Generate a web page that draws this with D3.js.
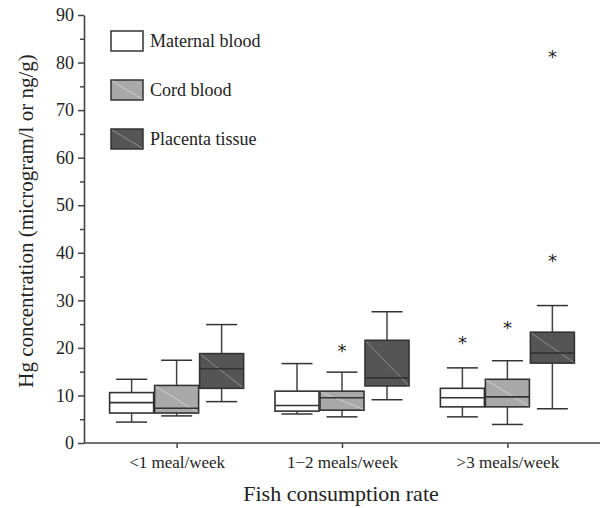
<!DOCTYPE html>
<html>
<head>
<meta charset="utf-8">
<script src="https://cdn.jsdelivr.net/npm/d3@7"></script>
<style>
  body { margin: 0; background: #fff; }
  text { font-family: "Liberation Serif", "DejaVu Serif", serif; fill: #222; }
</style>
</head>
<body>
<script>
// categories and series
const groups = ["<1 meal/week", "1\u22122 meals/week", ">3 meals/week"];
const series = ["Maternal blood", "Cord blood", "Placenta tissue"];

// box stats per group: [whisker low, q1, median, q3, whisker high]
const maternal = [[4.4, 6.3, 8.5, 10.6, 13.4], [6.1, 6.7, 7.9, 10.9, 16.7], [5.5, 7.6, 9.5, 11.5, 15.8]];
const cord = [[5.7, 6.3, 7.3, 12.1, 17.4], [5.5, 6.9, 9.5, 10.9, 14.9], [3.9, 7.6, 9.7, 13.4, 17.3]];
const placenta = [[8.7, 11.5, 15.6, 18.8, 24.9], [9.1, 12.0, 13.7, 21.6, 27.6], [7.2, 16.8, 18.9, 23.3, 28.9]];

// outliers: [group index, series index, value]
const outliers = [[1, 1, 20.0], [2, 0, 21.7], [2, 1, 24.8], [2, 2, 38.8], [2, 2, 81.9]];

const yTicks = [0, 10, 20, 30, 40, 50, 60, 70, 80, 90];
const fills = ["#ffffff", "#a9a9a9", "#555555"];
const diag = [null, "#d8d8d8", "#9a9a9a"];

const width = 602, height = 508;
const stats = [maternal, cord, placenta];

const svg = d3.select("body").append("svg")
  .attr("width", width)
  .attr("height", height);

const y = d3.scaleLinear().domain([0, 90]).range([443, 15]);
const x = d3.scalePoint().domain(groups).range([84, 600]).padding(0.56);
const off = d3.scalePoint().domain(series).range([-45, 45]);
const boxW = 44, capW = 31;

// y axis: minor ticks then labelled ticks
svg.append("g")
  .attr("transform", "translate(84,0)")
  .call(d3.axisLeft(y).tickValues(d3.range(5, 90, 10)).tickSize(4).tickFormat(""))
  .call(g => g.select(".domain").remove())
  .call(g => g.selectAll("line").attr("stroke", "#444").attr("stroke-width", 1.5));

const yAxis = svg.append("g")
  .attr("transform", "translate(84,0)")
  .call(d3.axisLeft(y).tickValues(yTicks).tickSize(6).tickSizeOuter(0).tickPadding(4));
yAxis.select(".domain").attr("stroke", "#444").attr("stroke-width", 1.6);
yAxis.selectAll("line").attr("stroke", "#444").attr("stroke-width", 1.5);
yAxis.selectAll("text").style("font-size", "18px").style("font-family", "Liberation Serif").attr("fill", "#222");

// x axis
svg.append("line")
  .attr("x1", 84).attr("x2", 600)
  .attr("y1", y(0)).attr("y2", y(0))
  .attr("stroke", "#444").attr("stroke-width", 1.6);

const xAxis = svg.append("g")
  .attr("transform", "translate(0," + y(0) + ")")
  .call(d3.axisBottom(x).tickSize(5).tickSizeOuter(0).tickPadding(8));
xAxis.select(".domain").remove();
xAxis.selectAll("line").attr("stroke", "#444").attr("stroke-width", 1.5);
xAxis.selectAll("text").style("font-size", "17px").style("font-family", "Liberation Serif").attr("fill", "#222");

// axis titles
svg.append("text")
  .attr("x", 341).attr("y", 501)
  .attr("text-anchor", "middle")
  .style("font-size", "22px")
  .text("Fish consumption rate");

svg.append("text")
  .attr("transform", "translate(33,221) rotate(-90)")
  .attr("text-anchor", "middle")
  .style("font-size", "21px")
  .text("Hg concentration (microgram/l or ng/g)");

// boxes
series.forEach((s, si) => {
  groups.forEach((gname, gi) => {
    const [lo, q1, med, q3, hi] = stats[si][gi];
    const cx = x(gname) + off(s);
    const g = svg.append("g");

    // whiskers
    g.append("line").attr("x1", cx).attr("x2", cx).attr("y1", y(hi)).attr("y2", y(q3))
      .attr("stroke", "#444").attr("stroke-width", 1.5);
    g.append("line").attr("x1", cx).attr("x2", cx).attr("y1", y(q1)).attr("y2", y(lo))
      .attr("stroke", "#444").attr("stroke-width", 1.5);
    [lo, hi].forEach(v => {
      g.append("line").attr("x1", cx - capW / 2).attr("x2", cx + capW / 2)
        .attr("y1", y(v)).attr("y2", y(v))
        .attr("stroke", "#333").attr("stroke-width", 1.5);
    });

    g.append("rect")
      .attr("x", cx - boxW / 2).attr("y", y(q3))
      .attr("width", boxW).attr("height", y(q1) - y(q3))
      .attr("fill", fills[si])
      .attr("stroke", "#333").attr("stroke-width", 1.6);

    if (diag[si]) {
      g.append("line")
        .attr("x1", cx - boxW / 2 + 1).attr("y1", y(q3) + 1)
        .attr("x2", cx + boxW / 2 - 1).attr("y2", y(q1) - 1)
        .attr("stroke", diag[si]).attr("stroke-width", 0.8);
    }

    g.append("line")
      .attr("x1", cx - boxW / 2).attr("x2", cx + boxW / 2)
      .attr("y1", y(med)).attr("y2", y(med))
      .attr("stroke", "#333").attr("stroke-width", 1.6);
  });
});

// outliers
svg.selectAll(".outlier")
  .data(outliers)
  .enter().append("text")
  .attr("class", "outlier")
  .attr("x", d => x(groups[d[0]]) + off(series[d[1]]))
  .attr("y", d => y(d[2]) + 9)
  .attr("text-anchor", "middle")
  .style("font-size", "18px")
  .style("font-family", "DejaVu Sans")
  .attr("fill", "#555")
  .text("*");

// legend
const legend = svg.append("g").attr("transform", "translate(111,31)");
series.forEach((s, i) => {
  const row = legend.append("g").attr("transform", "translate(0," + i * 49 + ")");
  row.append("rect")
    .attr("width", 32).attr("height", 20)
    .attr("fill", fills[i])
    .attr("stroke", "#333").attr("stroke-width", 1.5);
  if (diag[i]) {
    row.append("line")
      .attr("x1", 1).attr("y1", 1).attr("x2", 31).attr("y2", 19)
      .attr("stroke", diag[i]).attr("stroke-width", 0.8);
  }
  row.append("text")
    .attr("x", 39).attr("y", 16)
    .style("font-size", "18px")
    .text(s);
});
</script>
</body>
</html>
